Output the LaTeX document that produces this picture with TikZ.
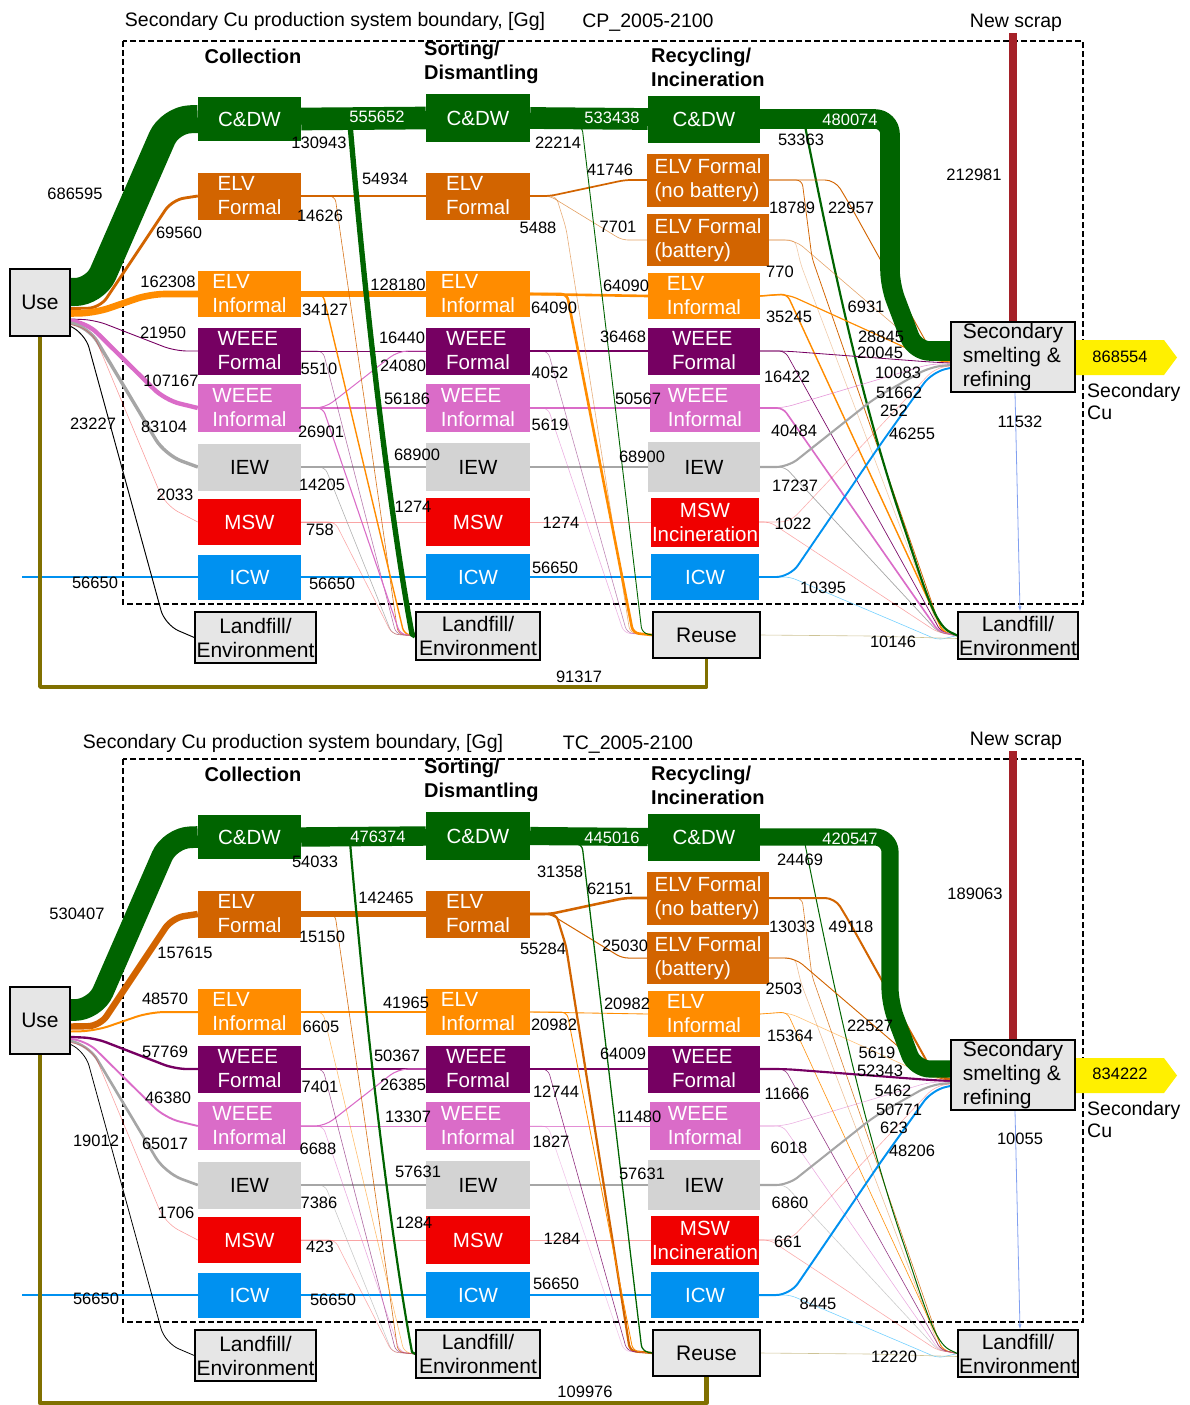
\documentclass[tikz,border=0pt]{standalone}
\usepackage{fontspec}
\setmainfont{Liberation Sans}
\usetikzlibrary{arrows.meta}
\pgfdeclarelayer{bgb}\pgfdeclarelayer{bg}\pgfsetlayers{bgb,bg,main}
\definecolor{cdw}{RGB}{0,100,0}
\definecolor{elvf}{RGB}{210,100,0}
\definecolor{elvi}{RGB}{255,140,0}
\definecolor{wf}{RGB}{118,0,98}
\definecolor{wi}{RGB}{218,108,200}
\definecolor{iewb}{RGB}{211,211,211}
\definecolor{iewf}{RGB}{166,166,166}
\definecolor{msw}{RGB}{240,0,0}
\definecolor{icw}{RGB}{0,145,240}
\definecolor{gboxc}{RGB}{230,230,230}
\definecolor{scrap}{RGB}{165,33,40}
\definecolor{yel}{RGB}{255,240,0}
\definecolor{oliv}{RGB}{128,112,0}
\definecolor{reusef}{RGB}{200,188,138}
\definecolor{lblue}{RGB}{102,204,255}
\definecolor{slblue}{RGB}{130,160,240}
\newcommand\numfont{\fontsize{16.5}{18}\selectfont}
\newcommand\boxfont{\fontsize{20.5}{24}\selectfont}
\newcommand\gboxfont{\fontsize{21}{24}\selectfont}
\newcommand\headfont{\fontsize{20}{24}\selectfont\bfseries}
\newcommand\titfont{\fontsize{19.5}{22}\selectfont}
\tikzset{
  fw/.code={\pgfmathsetmacro\fwv{max(#1*0.0408,0.6)}\pgfmathsetmacro\fwo{min(1,0.3+#1*0.0408)}\pgfkeysalso{line width=\fwv pt,draw opacity=\fwo}},
  flow/.style={line cap=butt, line join=round, rounded corners=6pt},
  cbox/.style={rectangle, inner sep=0pt, text=white, font=\boxfont, align=left},
  gbox/.style={rectangle, draw=black, line width=1.4pt, fill=gboxc, inner sep=0pt, font=\gboxfont, align=center, text=black},
  num/.style={font=\numfont, inner sep=0pt, text=black},
  wnum/.style={num, text=white},
  headn/.style={font=\headfont, inner sep=0pt},
}
\newcount\labcnt
\newcommand\putnum[3]{\global\advance\labcnt by 1\relax\node[num] (lab\the\labcnt) at (#1,#2) {#3};}
\newcommand\putwnum[3]{\global\advance\labcnt by 1\relax\node[wnum] (lab\the\labcnt) at (#1,#2) {#3};}
\newcommand\sankey{%
% ---------- boxes
\node[gbox, minimum width=60pt, minimum height=67pt] (\p use) at (40,302.5) {Use};
\node[cbox, align=center, fill=cdw, minimum width=103pt, minimum height=44pt] (\p cdw1) at (249.5,119) {C\&DW};
\node[cbox, fill=elvf, minimum width=103pt, minimum height=47pt] (\p elvf1) at (249.5,196) {ELV\\Formal};
\node[cbox, fill=elvi, minimum width=103pt, minimum height=46pt] (\p elvi1) at (249.5,294) {ELV\\Informal};
\node[cbox, fill=wf, minimum width=103pt, minimum height=47pt] (\p wf1) at (249.5,351) {WEEE\\Formal};
\node[cbox, fill=wi, minimum width=103pt, minimum height=48pt] (\p wi1) at (249.5,408) {WEEE\\Informal};
\node[cbox, align=center, text=black, fill=iewb, minimum width=103pt, minimum height=47pt] (\p iew1) at (249.5,467) {IEW};
\node[cbox, align=center, fill=msw, minimum width=103pt, minimum height=46pt] (\p msw1) at (249.5,522) {MSW};
\node[cbox, align=center, fill=icw, minimum width=103pt, minimum height=45pt] (\p icw1) at (249.5,577) {ICW};
\node[cbox, align=center, fill=cdw, minimum width=104pt, minimum height=48pt] (\p cdw2) at (478,118) {C\&DW};
\node[cbox, fill=elvf, minimum width=104pt, minimum height=47pt] (\p elvf2) at (478,196) {ELV\\Formal};
\node[cbox, fill=elvi, minimum width=104pt, minimum height=46pt] (\p elvi2) at (478,294) {ELV\\Informal};
\node[cbox, fill=wf, minimum width=104pt, minimum height=47pt] (\p wf2) at (478,351) {WEEE\\Formal};
\node[cbox, fill=wi, minimum width=104pt, minimum height=48pt] (\p wi2) at (478,408) {WEEE\\Informal};
\node[cbox, align=center, text=black, fill=iewb, minimum width=104pt, minimum height=48pt] (\p iew2) at (478,467) {IEW};
\node[cbox, align=center, fill=msw, minimum width=104pt, minimum height=48pt] (\p msw2) at (478,522) {MSW};
\node[cbox, align=center, fill=icw, minimum width=104pt, minimum height=46pt] (\p icw2) at (478,577) {ICW};
\node[cbox, align=center, fill=cdw, minimum width=112pt, minimum height=47pt] (\p cdw3) at (704,119) {C\&DW};
\node[cbox, fill=elvf, minimum width=122pt, minimum height=53pt] (\p elvnb) at (708,180) {ELV Formal\\(no battery)};
\node[cbox, fill=elvf, minimum width=122pt, minimum height=52pt] (\p elvb) at (708,240) {ELV Formal\\(battery)};
\node[cbox, fill=elvi, minimum width=112pt, minimum height=46pt] (\p elvi3) at (704,296) {ELV\\Informal};
\node[cbox, fill=wf, minimum width=112pt, minimum height=47pt] (\p wf3) at (704,351) {WEEE\\Formal};
\node[cbox, fill=wi, minimum width=110pt, minimum height=48pt] (\p wi3) at (705,408) {WEEE\\Informal};
\node[cbox, align=center, text=black, fill=iewb, minimum width=112pt, minimum height=50pt] (\p iew3) at (704,467) {IEW};
\node[cbox, align=center, fill=msw, minimum width=108pt, minimum height=49pt] (\p msw3) at (705,522) {MSW\\Incineration};
\node[cbox, align=center, fill=icw, minimum width=108pt, minimum height=46pt] (\p icw3) at (705,577) {ICW};
\node[gbox, minimum width=121pt, minimum height=51pt] (\p lf1) at (255.5,637.5) {Landfill/\\Environment};
\node[gbox, minimum width=124pt, minimum height=48pt] (\p lf2) at (478,636) {Landfill/\\Environment};
\node[gbox, minimum width=107pt, minimum height=46pt] (\p reuse) at (706.5,635) {Reuse};
\node[gbox, align=left, minimum width=124pt, minimum height=70pt] (\p sm) at (1013,357) {Secondary\\smelting \&\\refining};
\node[gbox, minimum width=120pt, minimum height=47pt] (\p lf4) at (1018,635.5) {Landfill/\\Environment};
% ---------- headers
\node[headn] (\p hcol) at (253,56) {Collection};
\node[headn, align=left, anchor=west] (\p hsort) at (424,62) {Sorting/\\Dismantling};
\node[headn, align=left, anchor=west] (\p hrec) at (651,67.5) {Recycling/\\Incineration};
\node[font=\titfont, inner sep=0pt] (\p hns) at (1016,23) {New scrap};
\node[font=\titfont, inner sep=0pt, align=left, anchor=west] (\p hscu) at (1087,401.5) {Secondary\\Cu};
\coordinate (\p icwin) at (22,577);
\coordinate (\p loopc) at (0,\loopy);
\coordinate (\p nsc) at (1013,33);
\begin{pgfonlayer}{bgb}
\draw[dash pattern=on 6pt off 3pt, line width=1.6pt] (123,41) rectangle (1083,604);
\end{pgfonlayer}
\begin{pgfonlayer}{bg}
\fill[yel] (1075,340) -- (1164,340) -- (1177,357.5) -- (1164,375) -- (1075,375) -- cycle;
% horizontal flows
\draw[flow,cdw,fw=\vCaCb] (\p cdw1.east) -- (\p cdw2.west);
\draw[flow,elvf,fw=\vEFaEFb] (\p elvf1.east) -- (\p elvf2.west);
\draw[flow,elvi,fw=\vEIaEIb] (\p elvi1.east) -- (\p elvi2.west);
\draw[flow,wf,fw=\vWFaWFb] (\p wf1.east) -- (\p wf2.west);
\draw[flow,wi,fw=\vWIaWIb] (\p wi1.east) -- (\p wi2.west);
\draw[flow,iewf,fw=\vIaIb] (\p iew1.east) -- (\p iew2.west);
\draw[flow,msw,fw=\vMaMb] (\p msw1.east) -- (\p msw2.west);
\draw[flow,icw,fw=\vIcw] (\p icw1.east) -- (\p icw2.west);
\draw[flow,cdw,fw=\vCbCc] (\p cdw2.east) -- (\p cdw3.west);
\draw[flow,elvi,fw=\vEIbEIc] (\p elvi2.east) -- (\p elvi3.west);
\draw[flow,wf,fw=\vWFbWFc] (\p wf2.east) -- (\p wf3.west);
\draw[flow,wi,fw=\vWIbWIc] (\p wi2.east) -- (\p wi3.west);
\draw[flow,iewf,fw=\vIbIc] (\p iew2.east) -- (\p iew3.west);
\draw[flow,msw,fw=\vMbMc] (\p msw2.east) -- (\p msw3.west);
\draw[flow,icw,fw=\vIcw] (\p icw2.east) -- (\p icw3.west);
\draw[flow,icw,fw=\vIcw] (\p icwin) -- (\p icw1.west);
% from Use
\draw[flow,elvf,fw=\vUEF,rounded corners=12pt] ([yshift=-6pt]\p use.east) -- (100,308) -- (172,200) -- (\p elvf1.west);
\draw[flow,elvi,fw=\vUEI,rounded corners=15pt] ([yshift=-11pt]\p use.east) -- (95,313) -- (150,294) -- (\p elvi1.west);
\draw[flow,wf,fw=\vUWF,rounded corners=12pt] ([yshift=-16.5pt]\p use.east) -- (95,320) -- (175,351) -- (\p wf1.west);
\draw[flow,wi,fw=\vUWI,rounded corners=15pt] ([yshift=-18.5pt]\p use.east) -- (86,322) -- (165,400) -- (\p wi1.west);
\draw[flow,iewf,fw=\vUI,rounded corners=18pt] ([yshift=-20.5pt]\p use.east) -- (88,326) -- (165,455) -- (\p iew1.west);
\draw[flow,msw,fw=\vUM,rounded corners=15pt] ([yshift=-22pt]\p use.east) -- (92,330) -- (165,505) -- (\p msw1.west);
\draw[flow,black,fw=\vUL,rounded corners=15pt] ([yshift=-24pt]\p use.east) -- (85,333) -- (165,625) -- (\p lf1.west);
\draw[flow,oliv,fw=\vRU,rounded corners=0pt] (\p reuse.south) -- (\p reuse.south |- \p loopc) -| (\p use.south);
% col1 branches
\draw[flow,wi,fw=\vWIaWFb,rounded corners=10pt] (\p wi1.east) -- (325,408) -- (398,351) -- (\p wf2.west);
\draw[flow,elvf,fw=\vEFaL] (\p elvf1.east) -- (335,196) -- (398,634) -- (\p lf2.west);
\draw[flow,elvi,fw=\vEIaL] (\p elvi1.east) -- (323,294) -- (404,634) -- (\p lf2.west);
\draw[flow,wf,fw=\vWFaL] (\p wf1.east) -- (323,351) -- (396,634) -- (\p lf2.west);
\draw[flow,wi,fw=\vWIaL] (\p wi1.east) -- (323,408) -- (400,634) -- (\p lf2.west);
\draw[flow,iewf,fw=\vIaL] (\p iew1.east) -- (325,467) -- (392,634) -- (\p lf2.west);
\draw[flow,msw,fw=\vMaL] (\p msw1.east) -- (335,522) -- (392,634) -- (\p lf2.west);
\draw[cdw,fw=\vCaL,line join=round] (\p cdw1.east) -- (350,124) .. controls (372,380) and (398,560) .. (412,634) -- (\p lf2.west);
% col2 branches
\draw[flow,elvf,fw=\vEFbNB] (\p elvf2.east) -- (550,196) -- (625,180) -- (\p elvnb.west);
\draw[flow,elvf,fw=\vEFbB] (\p elvf2.east) -- (550,196) -- (622,240) -- (\p elvb.west);
\draw[flow,elvf,fw=\vEFbR] (\p elvf2.east) -- (556,196) -- (566,228) -- (630,633) -- (\p reuse.west);
\draw[flow,wf,fw=\vWFbR] (\p wf2.east) -- (548,351) -- (627,633) -- (\p reuse.west);
\draw[flow,wi,fw=\vWIbR] (\p wi2.east) -- (548,408) -- (624,633) -- (\p reuse.west);
\draw[flow,elvi,fw=\vEIbR] (\p elvi2.east) -- (567,294) -- (633,633) -- (\p reuse.west);
\draw[flow,cdw,fw=\vCbR] (\p cdw2.east) -- (582,126) -- (642,633) -- (\p reuse.west);
% col3 -> landfill
\draw[flow,elvf,fw=\vNBL] (\p elvnb.east) -- (802,180) -- (812,258) -- (942,632) -- (\p lf4.west);
\draw[flow,elvf,fw=\vBL] (\p elvb.east) -- (795,240) -- (801,265) -- (940,632) -- (\p lf4.west);
\draw[flow,elvi,fw=\vEIcL] (\p elvi3.east) -- (787,294) -- (943,632) -- (\p lf4.west);
\draw[flow,wf,fw=\vWFcL] (\p wf3.east) -- (785,351) -- (941,632) -- (\p lf4.west);
\draw[flow,wi,fw=\vWIcL] (\p wi3.east) -- (783,408) -- (939,632) -- (\p lf4.west);
\draw[flow,iewf,fw=\vIcL] (\p iew3.east) -- (785,467) -- (938,632) -- (\p lf4.west);
\draw[flow,msw,fw=\vMcL] (\p msw3.east) -- (770,522) -- (937,632) -- (\p lf4.west);
\draw[flow,lblue,fw=\vICcL,draw opacity=0.9] (\p icw3.east) -- (790,577) -- (938,640) -- (\p lf4.west);
\draw[flow,reusef,fw=\vRL,draw opacity=0.9] (\p reuse.east) -- (870,636) -- ([yshift=-3pt]\p lf4.west);
\draw[cdw,fw=\vCcL,line join=round] (\p cdw3.east) -- (805,126) .. controls (830,250) and (860,400) .. (905,530) .. controls (925,590) and (935,625) .. (950,632) -- (\p lf4.west);
% col3 -> smelter
\draw[flow,elvf,fw=\vNBS,rounded corners=10pt] (\p elvnb.east) -- (835,180) -- (850,205) -- (935,358) -- ([yshift=-4pt]\p sm.west);
\draw[flow,elvf,fw=\vBS,rounded corners=10pt] (\p elvb.east) -- (795,240) -- (935,360) -- ([yshift=-5pt]\p sm.west);
\draw[flow,elvi,fw=\vEIcS,rounded corners=10pt] (\p elvi3.east) -- (787,294) -- (935,361) -- ([yshift=-5pt]\p sm.west);
\draw[flow,wf,fw=\vWFcS,rounded corners=10pt] (\p wf3.east) -- (785,351) -- (930,362) -- ([yshift=-6pt]\p sm.west);
\draw[flow,wi,fw=\vWIcS,rounded corners=10pt] (\p wi3.east) -- (783,408) -- (930,364) -- ([yshift=-7pt]\p sm.west);
\draw[flow,iewf,fw=\vIcS,rounded corners=12pt] (\p iew3.east) -- (788,467) -- (875,398) -- (930,367) -- ([yshift=-8pt]\p sm.west);
\draw[flow,msw,fw=\vMcS,rounded corners=10pt] (\p msw3.east) -- (790,522) -- (935,368) -- ([yshift=-9pt]\p sm.west);
\draw[flow,icw,fw=\vICcS,rounded corners=14pt] (\p icw3.east) -- (790,577) -- (880,445) -- (932,372) -- ([yshift=-11pt]\p sm.west);
% main bands
\draw[flow,cdw,fw=\vUC,rounded corners=20pt] ([yshift=10.5pt]\p use.east) -- (95,292) -- (170,120) -- (\p cdw1.west);
\draw[flow,cdw,fw=\vCcS,rounded corners=15pt] (\p cdw3.east) -- (890,119) -- (890,285) -- (915,351) -- ([yshift=6pt]\p sm.west);
\draw[scrap,fw=\vNS] (\p nsc) -- (\p sm.north);
\draw[slblue,line width=0.8pt,-{Latex[length=5pt,width=3.5pt]}] ([xshift=2pt]\p sm.south) -- ([xshift=2pt]\p lf4.north);
\end{pgfonlayer}
}
\begin{document}
\begin{tikzpicture}[x=1pt,y=-1pt]
\useasboundingbox (0,0) rectangle (1189,1405);
% ================= top panel (CP)
\def\p{a}\def\loopy{687}
\def\vUC{686.595}\def\vUEF{69.560}\def\vUEI{162.308}\def\vUWF{21.950}\def\vUWI{107.167}\def\vUI{83.104}\def\vUM{2.033}\def\vUL{23.227}\def\vIcw{56.650}
\def\vCaCb{555.652}\def\vCaL{130.943}\def\vEFaEFb{54.934}\def\vEFaL{14.626}\def\vEIaEIb{128.180}\def\vEIaL{34.127}\def\vWFaWFb{16.440}\def\vWFaL{5.510}\def\vWIaWFb{24.080}\def\vWIaWIb{56.186}\def\vWIaL{26.901}\def\vIaIb{68.900}\def\vIaL{14.205}\def\vMaMb{1.274}\def\vMaL{0.758}
\def\vCbCc{533.438}\def\vCbR{22.214}\def\vEFbNB{41.746}\def\vEFbB{7.701}\def\vEFbR{5.488}\def\vEIbEIc{64.090}\def\vEIbR{64.090}\def\vWFbWFc{36.468}\def\vWFbR{4.052}\def\vWIbWIc{50.567}\def\vWIbR{5.619}\def\vIbIc{68.900}\def\vMbMc{1.274}
\def\vCcS{480.074}\def\vCcL{53.363}\def\vNBS{22.957}\def\vNBL{18.789}\def\vBS{6.931}\def\vBL{0.770}\def\vEIcS{28.845}\def\vEIcL{35.245}\def\vWFcS{20.045}\def\vWFcL{16.422}\def\vWIcS{10.083}\def\vWIcL{40.484}\def\vIcS{51.662}\def\vIcL{17.237}\def\vMcS{0.252}\def\vMcL{1.022}\def\vICcS{46.255}\def\vICcL{10.395}
\def\vRU{91.317}\def\vRL{10.146}\def\vNS{212.981}\def\vSL{11.532}
\sankey
\node[font=\titfont, inner sep=0pt] (ttla) at (335,21) {Secondary Cu production system boundary, [Gg]};
\node[font=\titfont, inner sep=0pt] (scena) at (648,23) {CP\_2005-2100};
\putwnum{377}{117}{555652}\putwnum{612}{118}{533438}\putwnum{850}{120}{480074}
\putnum{75}{194}{686595}\putnum{319}{143}{130943}\putnum{385}{179}{54934}\putnum{320}{216}{14626}
\putnum{179}{233}{69560}\putnum{168}{282}{162308}\putnum{325}{310}{34127}\putnum{398}{285}{128180}
\putnum{554}{308}{64090}\putnum{558}{143}{22214}\putnum{538}{228}{5488}\putnum{163}{333}{21950}
\putnum{402}{338}{16440}\putnum{801}{140}{53363}\putnum{974}{175}{212981}\putnum{610}{170}{41746}
\putnum{618}{227}{7701}\putnum{792}{208}{18789}\putnum{851}{208}{22957}\putnum{780}{272}{770}
\putnum{626}{286}{64090}\putnum{866}{307}{6931}\putnum{789}{317}{35245}\putnum{623}{337}{36468}
\putnum{881}{337}{28845}\putnum{319}{369}{5510}\putnum{403}{366}{24080}\putnum{550}{373}{4052}
\putnum{171}{381}{107167}\putnum{407}{399}{56186}\putnum{93}{424}{23227}\putnum{164}{427}{83104}
\putnum{321}{432}{26901}\putnum{550}{425}{5619}\putnum{417}{455}{68900}\putnum{322}{485}{14205}
\putnum{175}{495}{2033}\putnum{413}{507}{1274}\putnum{320}{530}{758}\putnum{561}{523}{1274}
\putnum{95}{583}{56650}\putnum{332}{584}{56650}\putnum{555}{568}{56650}\putnum{579}{677}{91317}
\putnum{787}{377}{16422}\putnum{638}{399}{50567}\putnum{880}{353}{20045}\putnum{898}{373}{10083}
\putnum{899}{393}{51662}\putnum{894}{411}{252}\putnum{912}{434}{46255}\putnum{794}{431}{40484}
\putnum{642}{457}{68900}\putnum{795}{486}{17237}\putnum{793}{524}{1022}\putnum{823}{588}{10395}
\putnum{893}{642}{10146}\putnum{1020}{422}{11532}\putnum{1120}{357}{868554}
% ================= bottom panel (TC)
\begin{scope}[yshift=-718pt]
\def\p{b}\def\loopy{685}
\def\vUC{530.407}\def\vUEF{157.615}\def\vUEI{48.570}\def\vUWF{57.769}\def\vUWI{46.380}\def\vUI{65.017}\def\vUM{1.706}\def\vUL{19.012}\def\vIcw{56.650}
\def\vCaCb{476.374}\def\vCaL{54.033}\def\vEFaEFb{142.465}\def\vEFaL{15.150}\def\vEIaEIb{41.965}\def\vEIaL{6.605}\def\vWFaWFb{50.367}\def\vWFaL{7.401}\def\vWIaWFb{26.385}\def\vWIaWIb{13.307}\def\vWIaL{6.688}\def\vIaIb{57.631}\def\vIaL{7.386}\def\vMaMb{1.284}\def\vMaL{0.423}
\def\vCbCc{445.016}\def\vCbR{31.358}\def\vEFbNB{62.151}\def\vEFbB{25.030}\def\vEFbR{55.284}\def\vEIbEIc{20.982}\def\vEIbR{20.982}\def\vWFbWFc{64.009}\def\vWFbR{12.744}\def\vWIbWIc{11.480}\def\vWIbR{1.827}\def\vIbIc{57.631}\def\vMbMc{1.284}
\def\vCcS{420.547}\def\vCcL{24.469}\def\vNBS{49.118}\def\vNBL{13.033}\def\vBS{22.527}\def\vBL{2.503}\def\vEIcS{5.619}\def\vEIcL{15.364}\def\vWFcS{52.343}\def\vWFcL{11.666}\def\vWIcS{5.462}\def\vWIcL{6.018}\def\vIcS{50.771}\def\vIcL{6.860}\def\vMcS{0.623}\def\vMcL{0.661}\def\vICcS{48.206}\def\vICcL{8.445}
\def\vRU{109.976}\def\vRL{12.220}\def\vNS{189.063}\def\vSL{10.055}
\sankey
\end{scope}
\node[font=\titfont, inner sep=0pt] (ttlb) at (293,743) {Secondary Cu production system boundary, [Gg]};
\node[font=\titfont, inner sep=0pt] (scenb) at (628,745) {TC\_2005-2100};
\putwnum{378}{837}{476374}\putwnum{612}{838}{445016}\putwnum{850}{839}{420547}
\putnum{77}{914}{530407}\putnum{315}{862}{54033}\putnum{386}{898}{142465}\putnum{322}{937}{15150}
\putnum{185}{953}{157615}\putnum{560}{872}{31358}\putnum{543}{949}{55284}\putnum{165}{999}{48570}
\putnum{321}{1027}{6605}\putnum{406}{1003}{41965}\putnum{554}{1025}{20982}\putnum{165}{1052}{57769}
\putnum{397}{1056}{50367}\putnum{800}{860}{24469}\putnum{975}{894}{189063}\putnum{610}{889}{62151}
\putnum{792}{927}{13033}\putnum{851}{927}{49118}\putnum{625}{946}{25030}\putnum{784}{989}{2503}
\putnum{627}{1004}{20982}\putnum{870}{1026}{22527}\putnum{790}{1036}{15364}\putnum{623}{1054}{64009}
\putnum{877}{1053}{5619}\putnum{320}{1087}{7401}\putnum{403}{1085}{26385}\putnum{556}{1092}{12744}
\putnum{168}{1098}{46380}\putnum{408}{1117}{13307}\putnum{96}{1141}{19012}\putnum{165}{1144}{65017}
\putnum{318}{1149}{6688}\putnum{551}{1142}{1827}\putnum{418}{1172}{57631}\putnum{319}{1203}{7386}
\putnum{176}{1213}{1706}\putnum{414}{1223}{1284}\putnum{320}{1247}{423}\putnum{562}{1239}{1284}
\putnum{96}{1299}{56650}\putnum{333}{1300}{56650}\putnum{556}{1284}{56650}\putnum{585}{1392}{109976}
\putnum{880}{1071}{52343}\putnum{787}{1094}{11666}\putnum{893}{1091}{5462}\putnum{639}{1117}{11480}
\putnum{899}{1110}{50771}\putnum{894}{1128}{623}\putnum{912}{1151}{48206}\putnum{789}{1148}{6018}
\putnum{642}{1174}{57631}\putnum{790}{1203}{6860}\putnum{788}{1242}{661}\putnum{818}{1304}{8445}
\putnum{894}{1357}{12220}\putnum{1020}{1139}{10055}\putnum{1120}{1074}{834222}
\end{tikzpicture}
\end{document}
